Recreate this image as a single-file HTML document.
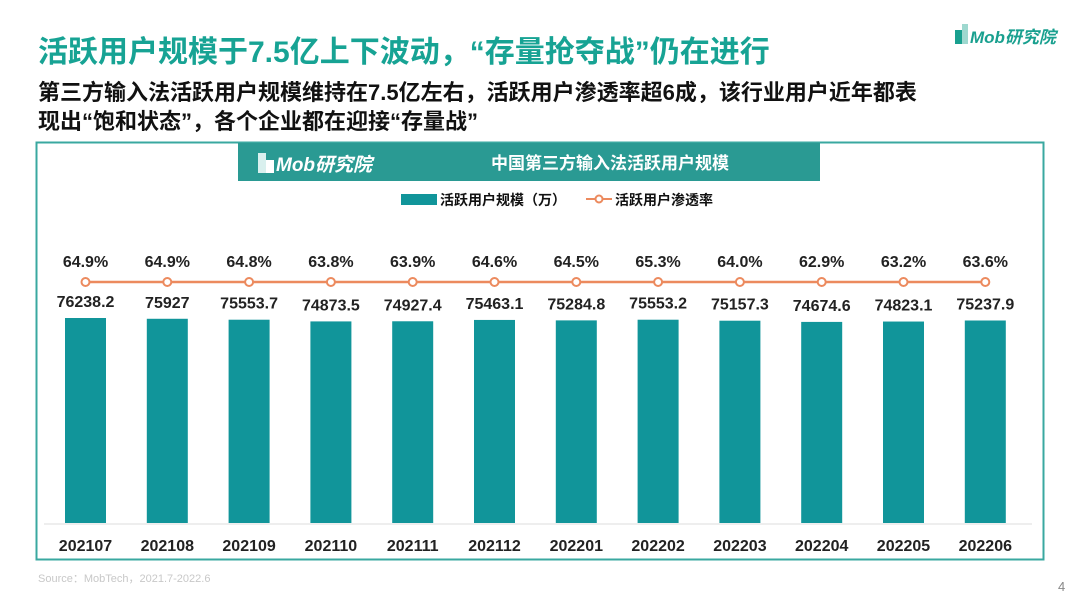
<!DOCTYPE html>
<html><head><meta charset="utf-8"><style>
body{margin:0;width:1080px;height:607px;background:#fff;overflow:hidden;font-family:"Liberation Sans","Noto Sans CJK SC",sans-serif;}
svg text{font-family:"Liberation Sans","Noto Sans CJK SC",sans-serif;}
</style></head><body>
<svg width="1080" height="607" viewBox="0 0 1080 607">
<text x="38" y="62" font-size="30" font-weight="bold" fill="#17a394">活跃用户规模于7.5亿上下波动，“存量抢夺战”仍在进行</text>
<text x="38" y="100" font-size="22" font-weight="bold" fill="#111">第三方输入法活跃用户规模维持在7.5亿左右，活跃用户渗透率超6成，该行业用户近年都表</text>
<text x="38" y="129" font-size="22" font-weight="bold" fill="#111">现出“饱和状态”，各个企业都在迎接“存量战”</text>
<g>
<rect x="955" y="30" width="7" height="14" fill="#19a08f"/><rect x="962" y="24" width="6" height="20" fill="#9ed8cf"/>
<text x="970" y="43" font-size="17" font-weight="bold" fill="#19a08f" font-style="italic">Mob研究院</text>
</g>
<rect x="36.5" y="142.5" width="1007" height="417" fill="none" stroke="#3aa8a0" stroke-width="2"/>
<rect x="238" y="143" width="582" height="38" fill="#2a9a93"/>
<rect x="258" y="153" width="8" height="20" fill="#d9f0ee"/><rect x="266" y="160" width="8" height="13" fill="#fff"/>
<text x="276" y="171" font-size="19" font-style="italic" font-weight="bold" fill="#fff">Mob研究院</text>
<text x="610" y="169" font-size="17" font-weight="bold" fill="#fff" text-anchor="middle">中国第三方输入法活跃用户规模</text>
<rect x="401" y="194" width="36" height="11" fill="#11959a"/>
<text x="440" y="205" font-size="14" font-weight="bold" fill="#111">活跃用户规模（万）</text>
<line x1="586" y1="199" x2="612" y2="199" stroke="#ec8a5e" stroke-width="2"/>
<circle cx="599" cy="199" r="3.5" fill="#fff" stroke="#ec8a5e" stroke-width="2"/>
<text x="615" y="205" font-size="14" font-weight="bold" fill="#111">活跃用户渗透率</text>
<line x1="44" y1="524" x2="1032" y2="524" stroke="#ddd" stroke-width="1"/>
<g id="g"></g>
<text x="38" y="582" font-size="11" fill="#c8c8c8">Source：MobTech，2021.7-2022.6</text>
<text x="1058" y="591" font-size="13" fill="#888">4</text>
</svg>
<script>
(function(){
var v=[76238.2,75927,75553.7,74873.5,74927.4,75463.1,75284.8,75553.2,75157.3,74674.6,74823.1,75237.9];
var p=["64.9%","64.9%","64.8%","63.8%","63.9%","64.6%","64.5%","65.3%","64.0%","62.9%","63.2%","63.6%"];
var c=["202107","202108","202109","202110","202111","202112","202201","202202","202203","202204","202205","202206"];
var s='';
var xs=[];for(var i=0;i<12;i++)xs.push(85.5+i*81.8);
s+='<polyline points="'+xs.map(function(x){return x+',282';}).join(' ')+'" fill="none" stroke="#ec8a5e" stroke-width="2.5"/>';
for(var i=0;i<12;i++){var x=xs[i],ty=318+(v[0]-v[i])*0.0025;
s+='<rect x="'+(x-20.5)+'" y="'+ty+'" width="41" height="'+(523-ty)+'" fill="#11959a"/>';
s+='<circle cx="'+x+'" cy="282" r="4" fill="#fff" stroke="#ec8a5e" stroke-width="2"/>';
s+='<text x="'+x+'" y="267" font-size="16" font-weight="bold" fill="#222" text-anchor="middle">'+p[i]+'</text>';
s+='<text x="'+x+'" y="'+(ty-11)+'" font-size="16" font-weight="bold" fill="#222" text-anchor="middle">'+v[i]+'</text>';
s+='<text x="'+x+'" y="551" font-size="16" font-weight="bold" fill="#222" text-anchor="middle">'+c[i]+'</text>';}
document.getElementById('g').innerHTML=s;
})();
</script>
</body></html>
